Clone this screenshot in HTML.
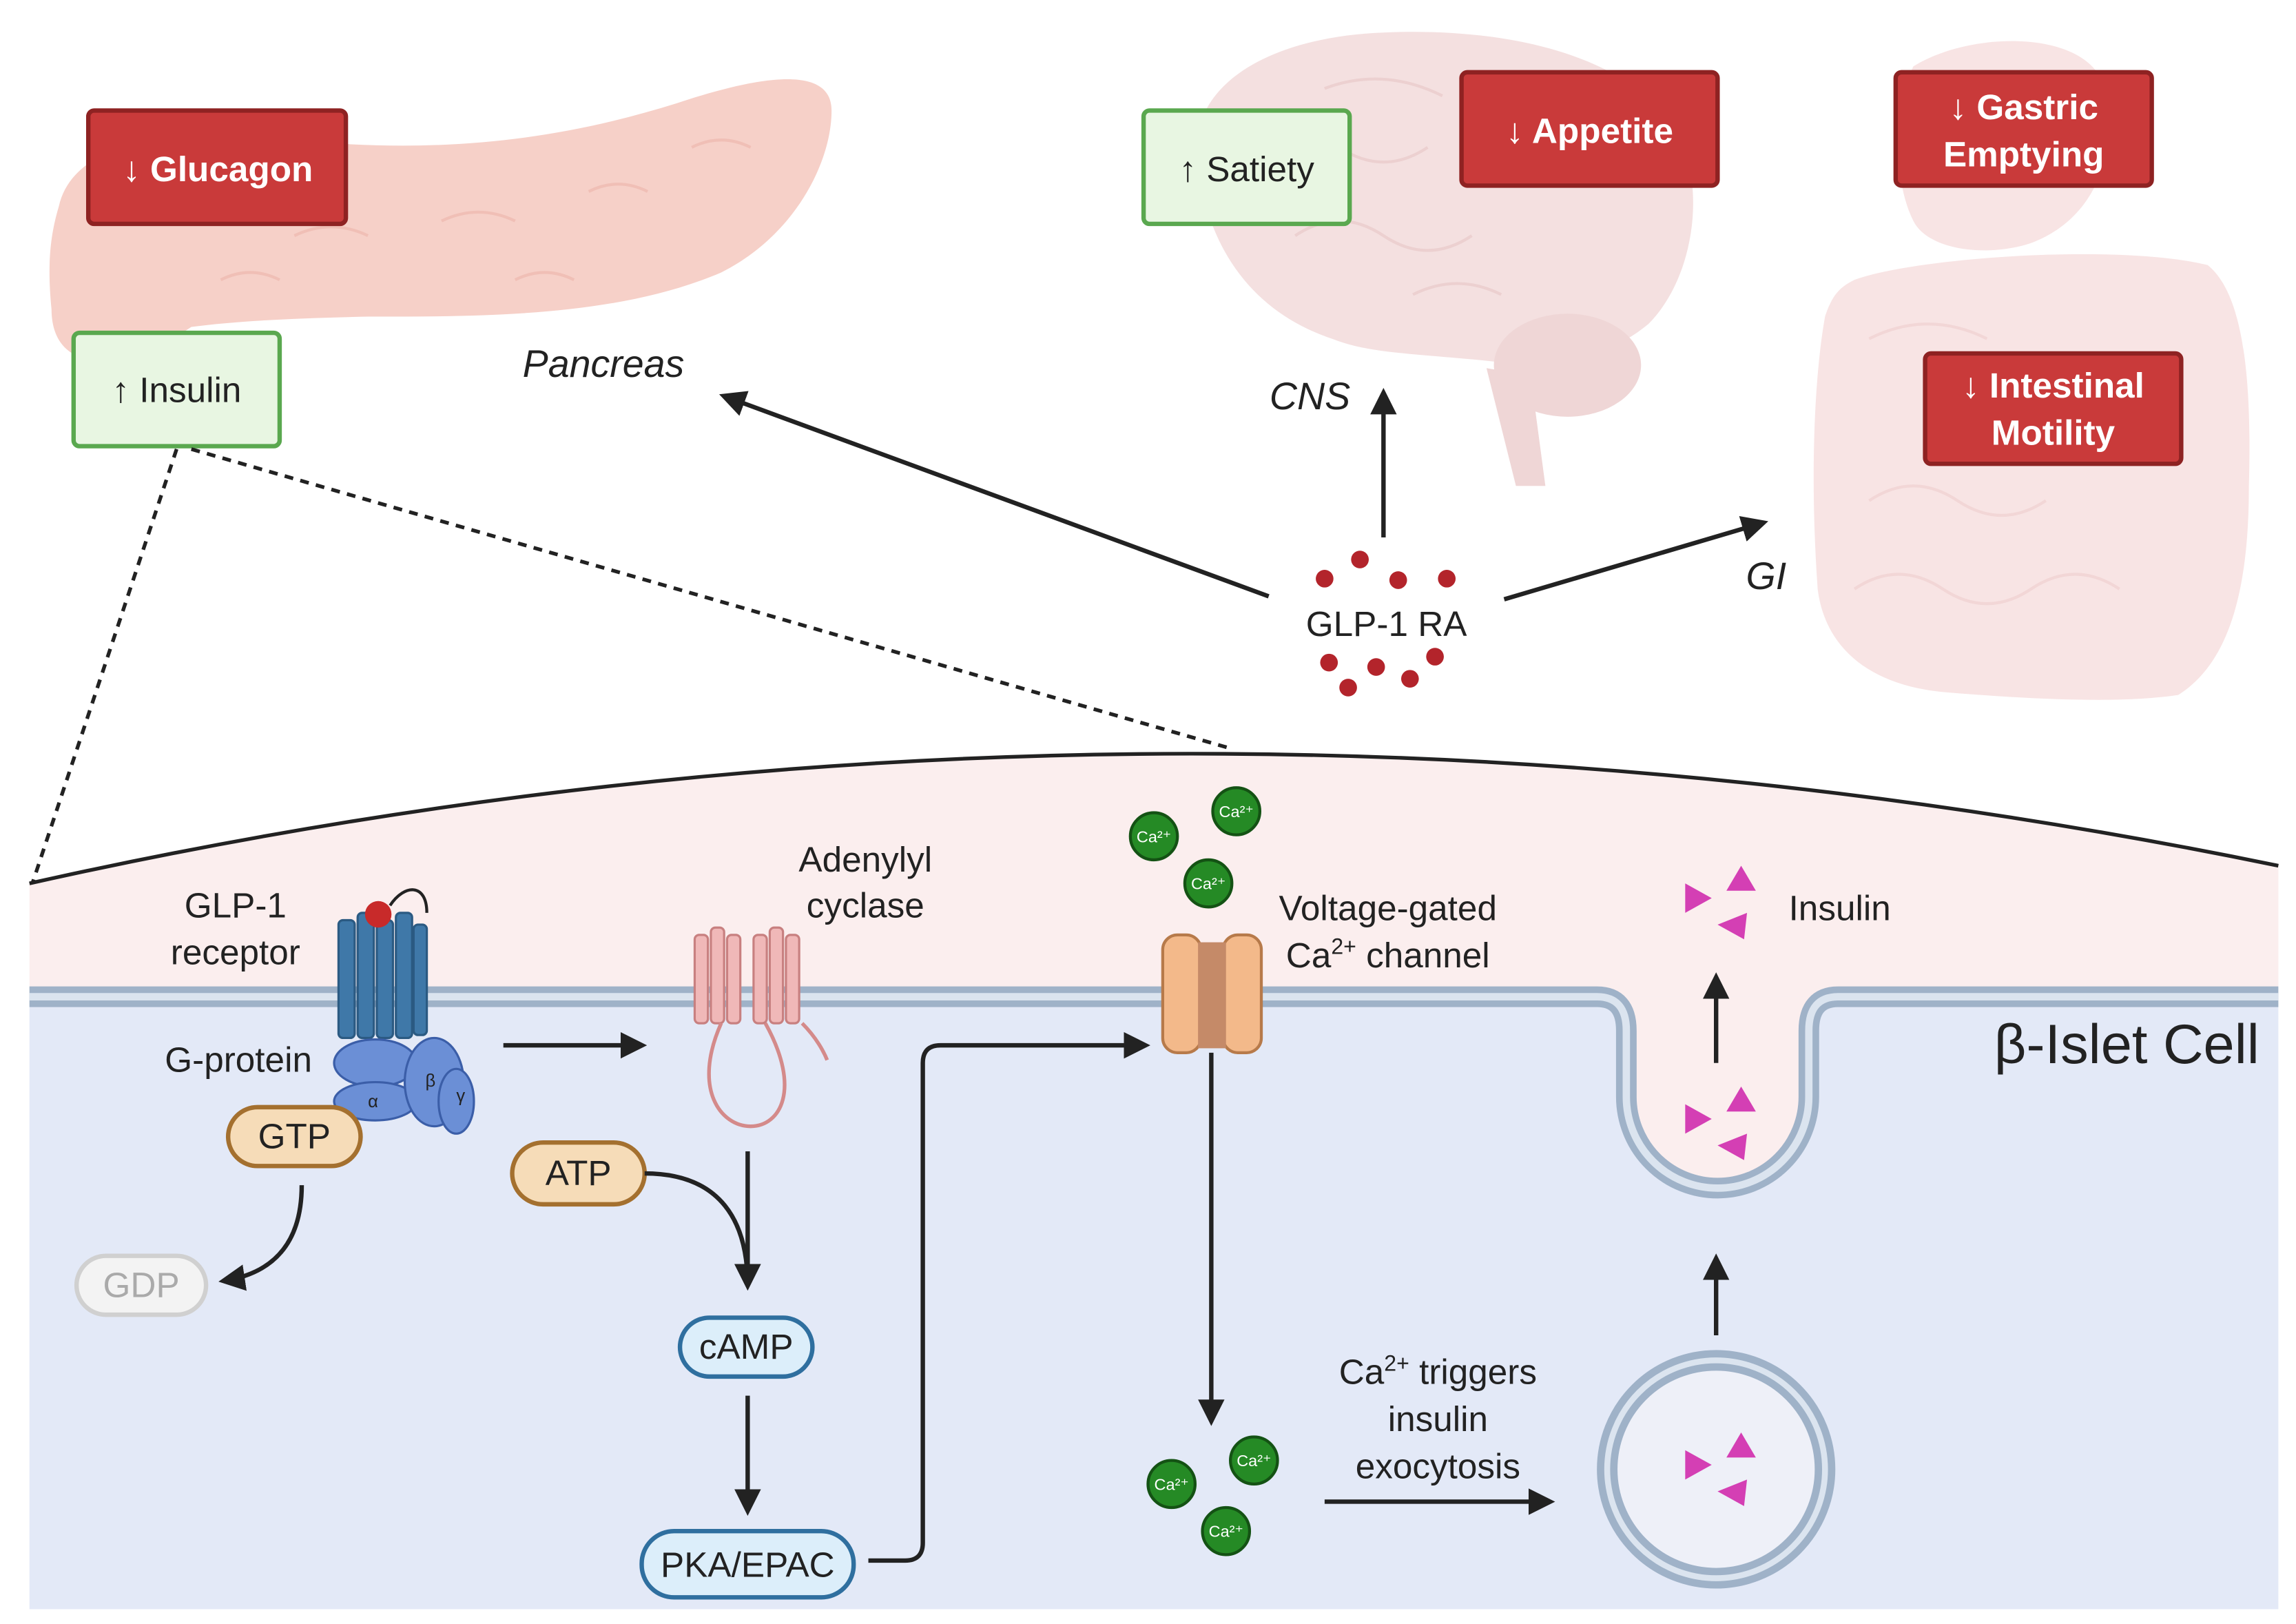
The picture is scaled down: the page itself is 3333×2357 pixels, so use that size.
<!DOCTYPE html>
<html><head><meta charset="utf-8"><style>
html,body{margin:0;padding:0;background:#fff}
svg{display:block}
text{font-family:"Liberation Sans",sans-serif;fill:#222}
</style></head><body>
<svg width="3333" height="2357" viewBox="0 0 1560 1103" xmlns="http://www.w3.org/2000/svg">
<defs>
<marker id="ah" viewBox="0 0 10 10" refX="8" refY="5" markerWidth="6" markerHeight="6" orient="auto-start-reverse"><path d="M0,0 L10,5 L0,10 z" fill="#222"/></marker>
</defs>
<rect width="1560" height="1103" fill="#fff"/>
<!-- Pancreas -->
<path d="M40,140 C50,95 120,85 200,95 C300,105 380,95 460,70 C520,50 565,45 565,75 C565,110 540,160 490,185 C420,215 330,215 250,215 C200,216 160,218 130,222 C110,235 95,245 70,245 C45,245 35,230 35,210 C32,180 34,160 40,140 z" fill="#f6d0c8"/>
<g fill="none" stroke="#f0bfb6" stroke-width="2">
<path d="M120,140 q20,-10 40,0 M200,160 q25,-12 50,0 M300,150 q25,-12 50,0 M400,130 q20,-10 40,0 M470,100 q20,-10 40,0 M350,190 q20,-10 40,0 M150,190 q20,-10 40,0"/>
</g>
<!-- Brain -->
<path d="M815,120 C800,60 860,25 940,22 C1030,18 1110,40 1140,90 C1160,130 1150,190 1120,220 C1090,245 1050,250 1010,245 C960,240 930,240 905,230 C860,215 825,180 815,120 z" fill="#f4e0e0"/>
<ellipse cx="1065" cy="248" rx="50" ry="35" fill="#efd6d6"/>
<path d="M1010,250 L1030,330 L1050,330 L1040,255 z" fill="#efd6d6"/>
<g fill="none" stroke="#ecd0d0" stroke-width="2">
<path d="M850,100 q30,-20 60,0 q30,20 60,0 M880,160 q30,-20 60,0 q30,20 60,0 M900,60 q40,-15 80,5 M960,200 q30,-15 60,0"/>
</g>
<!-- GI -->
<path d="M1300,45 C1340,20 1420,20 1430,60 C1440,110 1420,150 1380,165 C1350,175 1310,170 1300,150 C1285,120 1288,70 1300,45 z" fill="#f8e4e4"/>
<path d="M1260,190 C1300,175 1440,165 1500,180 C1525,200 1530,260 1528,330 C1528,400 1515,450 1480,472 C1440,478 1380,475 1320,470 C1270,465 1240,440 1235,400 C1230,330 1232,260 1240,215 C1245,200 1250,195 1260,190 z" fill="#f8e4e4"/>
<g fill="none" stroke="#f2d6d6" stroke-width="2">
<path d="M1270,340 q30,-20 60,0 q30,20 60,0 M1260,400 q30,-20 60,0 q30,20 60,0 q30,-20 60,0 M1270,230 q40,-20 80,0"/>
</g>
<!-- boxes -->
<g stroke-width="3">
<rect x="60" y="75" width="175" height="77" rx="4" fill="#c93a3a" stroke="#8e2222"/>
<rect x="993" y="49" width="174" height="77" rx="4" fill="#c93a3a" stroke="#8e2222"/>
<rect x="1288" y="49" width="174" height="77" rx="4" fill="#c93a3a" stroke="#8e2222"/>
<rect x="1308" y="240" width="174" height="75" rx="4" fill="#c93a3a" stroke="#8e2222"/>
<rect x="50" y="226" width="140" height="77" rx="4" fill="#e8f6e2" stroke="#5aa84f"/>
<rect x="777" y="75" width="140" height="77" rx="4" fill="#e8f6e2" stroke="#5aa84f"/>
</g>
<g font-size="24" text-anchor="middle">
<g font-weight="bold" style="font-weight:600">
<text x="148" y="123" style="fill:#fff">↓ Glucagon</text>
<text x="1080" y="97" style="fill:#fff">↓ Appetite</text>
<text x="1375" y="81" style="fill:#fff">↓ Gastric</text>
<text x="1375" y="113" style="fill:#fff">Emptying</text>
<text x="1395" y="270" style="fill:#fff">↓ Intestinal</text>
<text x="1395" y="302" style="fill:#fff">Motility</text>
</g>
<text x="120" y="273">↑ Insulin</text>
<text x="847" y="123">↑ Satiety</text>
<text x="410" y="256" font-style="italic" font-size="26">Pancreas</text>
<text x="890" y="278" font-style="italic" font-size="26">CNS</text>
<text x="1200" y="400" font-style="italic" font-size="26">GI</text>
<text x="942" y="432">GLP-1 RA</text>
</g>
<!-- arrows top -->
<g stroke="#222" stroke-width="3" fill="none" marker-end="url(#ah)">
<line x1="862" y1="405" x2="492" y2="269"/>
<line x1="940" y1="365" x2="940" y2="267"/>
<line x1="1022" y1="407" x2="1198" y2="355"/>
</g>
<g fill="#b3242b">
<circle cx="900" cy="393" r="6"/><circle cx="924" cy="380" r="6"/><circle cx="950" cy="394" r="6"/><circle cx="983" cy="393" r="6"/>
<circle cx="903" cy="450" r="6"/><circle cx="935" cy="453" r="6"/><circle cx="975" cy="446" r="6"/><circle cx="916" cy="467" r="6"/><circle cx="958" cy="461" r="6"/>
</g>
<!-- cell -->
<path d="M20,600 Q780,430 1548,588 V677 H20 z" fill="#fbeeee"/>
<path d="M20,600 Q780,430 1548,588" fill="none" stroke="#222" stroke-width="2.5"/>
<rect x="20" y="677" width="1528" height="416" fill="#e3e9f7"/>
<path d="M1085,677 Q1105,677 1105,700 V745 A62,62 0 0 0 1229,745 V700 Q1229,677 1249,677 z" fill="#fbeeee"/>
<path d="M20,677 H1085 Q1105,677 1105,700 V745 A62,62 0 0 0 1229,745 V700 Q1229,677 1249,677 H1548" fill="none" stroke="#9fb2c8" stroke-width="14"/>
<path d="M20,677 H1085 Q1105,677 1105,700 V745 A62,62 0 0 0 1229,745 V700 Q1229,677 1249,677 H1548" fill="none" stroke="#dbe4ef" stroke-width="5"/>
<!-- dashed -->
<g stroke="#222" stroke-width="2.5" stroke-dasharray="6,5" fill="none">
<line x1="120" y1="305" x2="22" y2="600"/>
<line x1="130" y1="305" x2="835" y2="508"/>
</g>
<!-- receptor -->
<g fill="#3f78a8" stroke="#2b5a82" stroke-width="1.5">
<rect x="230" y="625" width="11" height="80" rx="3"/><rect x="243" y="620" width="11" height="85" rx="3"/><rect x="256" y="625" width="11" height="80" rx="3"/><rect x="269" y="620" width="11" height="85" rx="3"/><rect x="281" y="628" width="9" height="75" rx="3"/>
</g>
<circle cx="257" cy="621" r="9" fill="#c82a2a"/>
<path d="M265,615 C275,600 290,600 290,620" fill="none" stroke="#222" stroke-width="2"/>
<g fill="#6b8fd6" stroke="#3b5ea8" stroke-width="1.5">
<ellipse cx="255" cy="722" rx="28" ry="16"/><ellipse cx="255" cy="748" rx="28" ry="13"/><ellipse cx="295" cy="735" rx="20" ry="30"/><ellipse cx="310" cy="748" rx="12" ry="22"/>
</g>
<g font-size="12" fill="#223"><text x="250" y="752">α</text><text x="289" y="738">β</text><text x="310" y="748">γ</text></g>
<g font-size="24" text-anchor="middle">
<text x="160" y="623">GLP-1</text><text x="160" y="655">receptor</text>
<text x="162" y="728">G-protein</text>
<text x="588" y="592">Adenylyl</text><text x="588" y="623">cyclase</text>
<text x="943" y="625">Voltage-gated</text>
<text x="943" y="657">Ca<tspan font-size="15" dy="-9">2+</tspan><tspan dy="9"> channel</tspan></text>
<text x="1250" y="625">Insulin</text>
<text x="977" y="940">Ca<tspan font-size="15" dy="-9">2+</tspan><tspan dy="9"> triggers</tspan></text>
<text x="977" y="972">insulin</text>
<text x="977" y="1004">exocytosis</text>
</g>
<text x="1445" y="722" font-size="38" text-anchor="middle">β-Islet Cell</text>
<!-- pills -->
<rect x="155" y="752" width="90" height="40" rx="20" fill="#f6dcb8" stroke="#a4702f" stroke-width="3"/>
<text x="200" y="780" font-size="24" text-anchor="middle">GTP</text>
<rect x="52" y="853" width="88" height="40" rx="20" fill="#f3f3f3" stroke="#d0d0d0" stroke-width="3"/>
<text x="96" y="881" font-size="24" text-anchor="middle" style="fill:#aaa">GDP</text>
<rect x="348" y="776" width="90" height="42" rx="21" fill="#f6dcb8" stroke="#a4702f" stroke-width="3"/>
<text x="393" y="805" font-size="24" text-anchor="middle">ATP</text>
<rect x="462" y="895" width="90" height="40" rx="20" fill="#dceefa" stroke="#2f6f9f" stroke-width="3"/>
<text x="507" y="923" font-size="24" text-anchor="middle">cAMP</text>
<rect x="436" y="1040" width="144" height="45" rx="22" fill="#dceefa" stroke="#2f6f9f" stroke-width="3"/>
<text x="508" y="1071" font-size="24" text-anchor="middle">PKA/EPAC</text>
<!-- adenylyl cyclase -->
<g fill="#f0b8b8" stroke="#c88080" stroke-width="1.5">
<rect x="472" y="635" width="9" height="60" rx="3"/><rect x="483" y="630" width="9" height="65" rx="3"/><rect x="494" y="635" width="9" height="60" rx="3"/>
<rect x="512" y="635" width="9" height="60" rx="3"/><rect x="523" y="630" width="9" height="65" rx="3"/><rect x="534" y="635" width="9" height="60" rx="3"/>
</g>
<path d="M490,695 C470,740 490,765 510,765 C530,765 545,740 520,695 M545,695 C555,705 560,715 562,720" fill="none" stroke="#d48a8a" stroke-width="2.5"/>
<!-- Ca channel -->
<rect x="790" y="635" width="26" height="80" rx="10" fill="#f3b98a" stroke="#b77a4a" stroke-width="2"/>
<rect x="831" y="635" width="26" height="80" rx="10" fill="#f3b98a" stroke="#b77a4a" stroke-width="2"/>
<rect x="814" y="640" width="19" height="72" fill="#c58a68"/>
<!-- Ca ions -->
<g fill="#258a25" stroke="#145214" stroke-width="2">
<circle cx="784" cy="568" r="16"/><circle cx="840" cy="551" r="16"/><circle cx="821" cy="600" r="16"/>
<circle cx="796" cy="1008" r="16"/><circle cx="852" cy="992" r="16"/><circle cx="833" cy="1040" r="16"/>
</g>
<g font-size="11" text-anchor="middle">
<text x="784" y="572" style="fill:#fff">Ca²⁺</text><text x="840" y="555" style="fill:#fff">Ca²⁺</text><text x="821" y="604" style="fill:#fff">Ca²⁺</text>
<text x="796" y="1012" style="fill:#fff">Ca²⁺</text><text x="852" y="996" style="fill:#fff">Ca²⁺</text><text x="833" y="1044" style="fill:#fff">Ca²⁺</text>
</g>
<!-- vesicle -->
<circle cx="1166" cy="998" r="74" fill="#eef0f8" stroke="#9fb2c8" stroke-width="14"/>
<circle cx="1166" cy="998" r="74" fill="none" stroke="#dbe4ef" stroke-width="4"/>
<!-- insulin triangles -->
<g fill="#d43fb4">
<path d="M1145,600 L1163,610 L1145,620 z"/><path d="M1173,605 L1183,588 L1193,605 z"/><path d="M1167,628 L1187,620 L1185,638 z"/>
<path d="M1145,750 L1163,760 L1145,770 z"/><path d="M1173,755 L1183,738 L1193,755 z"/><path d="M1167,778 L1187,770 L1185,788 z"/>
<path d="M1145,985 L1163,995 L1145,1005 z"/><path d="M1173,990 L1183,973 L1193,990 z"/><path d="M1167,1013 L1187,1005 L1185,1023 z"/>
</g>
<!-- arrows bottom -->
<g stroke="#222" stroke-width="3" fill="none" marker-end="url(#ah)">
<path d="M205,805 C205,845 185,865 152,870"/>
<line x1="342" y1="710" x2="436" y2="710"/>
<path d="M438,797 C490,797 508,830 508,873"/>
<line x1="508" y1="782" x2="508" y2="873"/>
<line x1="508" y1="948" x2="508" y2="1026"/>
<path d="M590,1060 H615 Q627,1060 627,1048 V722 Q627,710 639,710 H778"/>
<line x1="823" y1="715" x2="823" y2="965"/>
<line x1="900" y1="1020" x2="1053" y2="1020"/>
<line x1="1166" y1="907" x2="1166" y2="855"/>
<line x1="1166" y1="722" x2="1166" y2="664"/>
</g>
</svg>
</body></html>
